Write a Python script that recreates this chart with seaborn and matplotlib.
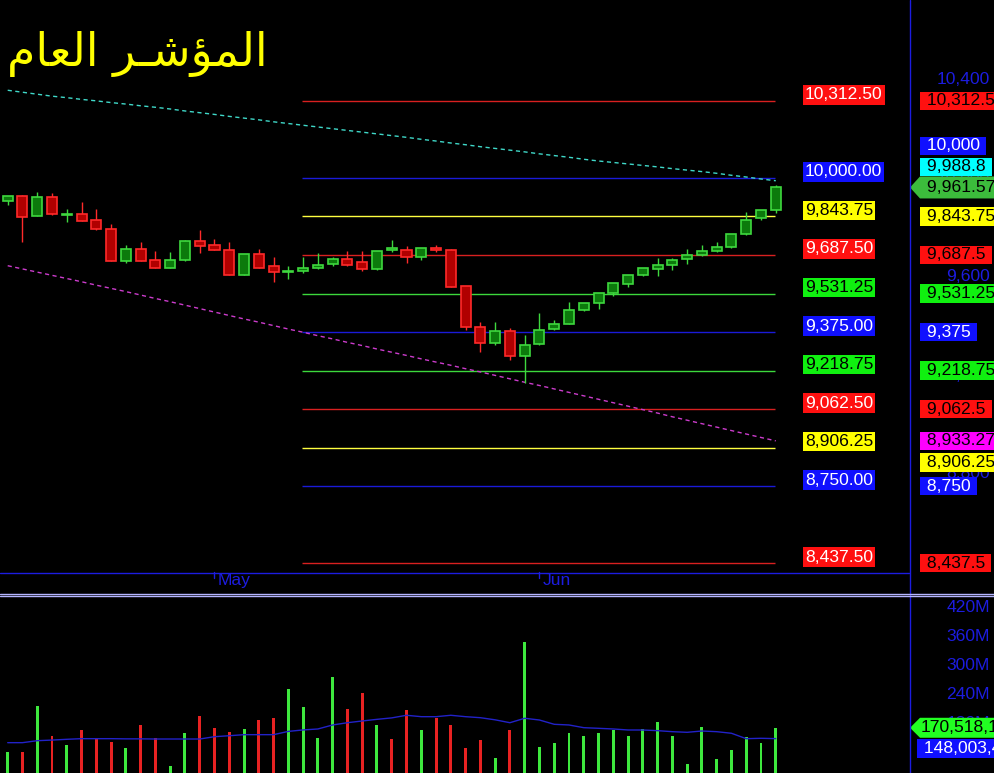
import numpy as np
import pandas as pd
import matplotlib
matplotlib.use("Agg")
import matplotlib.pyplot as plt
import matplotlib.transforms as mtransforms
from matplotlib.patches import Polygon
from matplotlib.lines import Line2D
import seaborn as sns

# ---- data (one candle per trading day) ----
opens = [9908, 9927, 9847, 9922, 9850, 9853, 9828, 9793, 9664, 9711,
         9667, 9636, 9666, 9744, 9728, 9708, 9608, 9690, 9642, 9620,
         9621, 9634, 9650, 9670, 9658, 9630, 9707, 9707, 9678, 9715,
         9707, 9560, 9394, 9332, 9378, 9279, 9325, 9386, 9409, 9463,
         9492, 9532, 9569, 9605, 9630, 9646, 9670, 9686, 9703, 9719,
         9772, 9837, 9869]
highs = [9927, 9930, 9943, 9938, 9874, 9903, 9874, 9813, 9728, 9740,
         9705, 9700, 9748, 9789, 9751, 9740, 9692, 9711, 9678, 9643,
         9680, 9696, 9679, 9702, 9702, 9704, 9747, 9724, 9717, 9727,
         9710, 9562, 9414, 9414, 9390, 9362, 9451, 9422, 9496, 9494,
         9534, 9575, 9607, 9636, 9674, 9674, 9711, 9727, 9739, 9774,
         9861, 9871, 9970]
lows = [9890, 9740, 9845, 9850, 9823, 9825, 9790, 9662, 9656, 9662,
        9634, 9634, 9664, 9694, 9707, 9606, 9606, 9634, 9579, 9589,
        9614, 9632, 9642, 9644, 9621, 9628, 9701, 9654, 9666, 9698,
        9557, 9384, 9295, 9324, 9263, 9169, 9323, 9382, 9407, 9461,
        9470, 9522, 9556, 9603, 9602, 9625, 9650, 9684, 9701, 9717,
        9770, 9828, 9857]
closes = [9927, 9843, 9922, 9853, 9852, 9827, 9792, 9664, 9711, 9664,
          9636, 9667, 9744, 9725, 9709, 9608, 9690, 9636, 9617, 9622,
          9634, 9646, 9670, 9646, 9630, 9702, 9715, 9678, 9715, 9707,
          9559, 9397, 9332, 9378, 9279, 9321, 9384, 9409, 9463, 9492,
          9532, 9573, 9605, 9634, 9646, 9666, 9686, 9703, 9719, 9772,
          9828, 9869, 9961.57]

# moving averages on the price panel
ma_long = [10356, 10348, 10340, 10332, 10326, 10319, 10313, 10306, 10300, 10293,
           10287, 10280, 10272, 10265, 10258, 10250, 10243, 10236, 10228, 10221,
           10214, 10207, 10200, 10193, 10186, 10179, 10172, 10165, 10157, 10150,
           10142, 10135, 10127, 10120, 10113, 10106, 10098, 10091, 10084, 10076,
           10069, 10063, 10057, 10051, 10045, 10038, 10032, 10026, 10019, 10011,
           10004, 9996, 9988.8]
ma_trend = [9644, 9631, 9618, 9605, 9592, 9579, 9565, 9552, 9539, 9525,
            9511, 9498, 9484, 9470, 9456, 9442, 9428, 9415, 9401, 9387,
            9374, 9360, 9347, 9333, 9320, 9306, 9293, 9280, 9266, 9253,
            9240, 9226, 9213, 9199, 9185, 9171, 9158, 9144, 9130, 9116,
            9102, 9088, 9074, 9060, 9046, 9031, 9017, 9003, 8989, 8975,
            8961, 8947, 8933.27]

# volume in millions, colour of each volume bar, and its moving average
volumes = [119.7, 119.7, 215.7, 153.5, 134.8, 165.9, 149.3, 141.0, 128.6, 176.3,
           149.3, 91.2, 159.7, 194.9, 170.1, 161.8, 168.0, 186.6, 190.8, 250.9,
           213.6, 149.3, 275.2, 209.5, 242.6, 176.3, 147.2, 207.4, 165.9, 190.8,
           176.3, 128.6, 145.2, 107.8, 165.9, 348.4, 130.7, 138.9, 159.7, 153.5,
           159.7, 165.9, 153.5, 168.0, 182.5, 153.5, 95.4, 172.1, 105.8, 124.4,
           151.4, 138.9, 170.5]
vol_up = [1, 0, 1, 0, 1, 0, 0, 0, 1, 0,
          0, 1, 1, 0, 0, 0, 1, 0, 0, 1,
          1, 1, 1, 0, 0, 1, 0, 0, 1, 0,
          0, 0, 0, 1, 0, 1, 1, 1, 1, 1,
          1, 1, 1, 1, 1, 1, 1, 1, 1, 1,
          1, 1, 1]
vol_ma = [139.6, 139.6, 143.7, 145.0, 146.6, 147.9, 147.9, 147.9, 147.5, 147.5,
          147.2, 147.2, 147.2, 147.2, 152.0, 154.0, 156.2, 156.2, 156.2, 163.0,
          166.0, 168.0, 176.3, 181.0, 184.6, 188.0, 191.0, 196.4, 193.5, 193.5,
          196.4, 193.5, 191.4, 187.0, 181.0, 190.2, 186.6, 177.7, 176.3, 170.7,
          169.4, 168.0, 165.9, 165.9, 164.5, 162.4, 161.1, 163.8, 162.4, 159.1,
          147.9, 148.7, 148.0]

# fibonacci style levels
fib_levels = [10312.5, 10000, 9843.75, 9687.5, 9531.25, 9375,
              9218.75, 9062.5, 8906.25, 8750, 8437.5]
fib_kinds = ["red", "blue", "yellow", "red", "green", "blue",
             "green", "red", "yellow", "blue", "red"]
fib_start = 19.95

price_ticks = [8800, 9200, 9600, 10000, 10400]
vol_ticks = [120, 180, 240, 300, 360, 420]
month_labels = ["May", "Jun"]
month_pos = [14, 36]

last_vol_full = "170,518,166"
last_vol_ma_full = "148,003,412"
title_text = "\uFEE1\uFE8E\uFECC\uFEDF\uFE8D \uFEAE\u0640\uFEB7\uFE86\uFEE4\uFEDF\uFE8D"  # المؤشر العام

# ---- style ----
W, H = 994, 773
BLUE = "#1c1ce0"
line_col = {"red": "#d82020", "blue": "#1a1ad8", "yellow": "#ffff40", "green": "#3cd83c"}
box_bg = {"red": "#ff1010", "blue": "#1010ff", "yellow": "#ffff00", "green": "#10f010"}
left_fg = {"red": "white", "blue": "white", "yellow": "black", "green": "black"}
right_fg = {"red": "black", "blue": "white", "yellow": "black", "green": "black"}

sns.set_theme(style="dark", rc={
    "figure.facecolor": "black", "axes.facecolor": "black",
    "savefig.facecolor": "black", "axes.grid": False,
})
plt.rcParams["font.family"] = ["Liberation Sans", "DejaVu Sans"]
FS = 12.6

fig = plt.figure(figsize=(W / 100, H / 100), dpi=100)
ax = fig.add_axes([0, (H - 572) / H, 909 / W, 572 / H])
axv = fig.add_axes([0, 0, 909 / W, (H - 596) / H])
for a in (ax, axv):
    a.set_axis_off()
    a.set_xlim(-0.5213, 61.02)
ax.set_ylim(8401.1, 10722.3)
axv.set_ylim(76.7, 443.8)

df = pd.DataFrame({"o": opens, "h": highs, "l": lows, "c": closes,
                   "v": volumes, "up": vol_up, "ma_long": ma_long,
                   "ma_trend": ma_trend, "vol_ma": vol_ma})
df["i"] = np.arange(len(df))
up = df.c >= df.o
edge = np.where(up, "#3ed83e", "#ff2a2a")
fill = np.where(up, "#0c7a0c", "#b00000")

# fib lines
ax.hlines(fib_levels, fib_start, df.i.iloc[-1] - 0.05,
          colors=[line_col[k] for k in fib_kinds], lw=1, zorder=2)

# moving averages
sns.lineplot(data=df, x="i", y="ma_long", ax=ax, color="#3fd8c8", lw=1,
             linestyle=(0, (3, 2.5)), legend=False, zorder=2)
sns.lineplot(data=df, x="i", y="ma_trend", ax=ax, color="#cc3ccc", lw=1,
             linestyle=(0, (3, 2.5)), legend=False, zorder=2)

# candles
ax.vlines(df.i, df.l, df.h, colors=edge, lw=1, zorder=3)
ax.bar(df.i, (df.c - df.o).abs().clip(lower=2), bottom=np.minimum(df.o, df.c),
       width=0.68, color=fill, edgecolor=edge, lw=1.2, zorder=4)

# volume
vcol = np.where(df.up == 1, "#3ee83e", "#e82222")
axv.bar(df.i, df.v, width=0.2, color=vcol, edgecolor="none", lw=0, zorder=3)
sns.lineplot(data=df, x="i", y="vol_ma", ax=axv, color="#2222c8", lw=1,
             legend=False, zorder=4)

# month ticks under the price panel
bx = mtransforms.blended_transform_factory(ax.transData, ax.transAxes)
for lab, pos in zip(month_labels, month_pos):
    ax.plot([pos, pos], [0, -6 / 572], color=BLUE, lw=1, transform=bx, clip_on=False)
    ax.text(pos + 0.2, -1 / 572, lab, color=BLUE, fontsize=FS, va="top",
            ha="left", transform=bx)

# frame lines
fig.add_artist(Line2D([0, 909 / W], [1 - 572.5 / H] * 2, color=BLUE, lw=1))
fig.add_artist(Line2D([909.5 / W] * 2, [0, 1], color=BLUE, lw=1))
for yy in (593.5, 595.8):
    fig.add_artist(Line2D([0, 1], [1 - yy / H] * 2, color="#b4b4ff", lw=1))

ay = mtransforms.blended_transform_factory(ax.transAxes, ax.transData)
avy = mtransforms.blended_transform_factory(axv.transAxes, axv.transData)
px_x = 1 / 909  # axes fraction per pixel


def short(v):
    return f"{v:,.2f}".rstrip("0").rstrip(".")


# left level labels
for v, k in zip(fib_levels, fib_kinds):
    ax.annotate(f"{v:,.2f}", xy=(805 * px_x, v), xycoords=ay,
                xytext=(0, 6), textcoords="offset pixels", ha="left", va="center",
                color=left_fg[k], fontsize=FS, zorder=6,
                bbox=dict(boxstyle="square,pad=0.12", fc=box_bg[k], ec="none"))

# right price scale
for t in price_ticks:
    ax.annotate(f"{t:,}", xy=(990 * px_x, t), xycoords=ay, ha="right",
                va="center", color=BLUE, fontsize=FS, zorder=5)

shift = {10000: 32, 8906.25: -15}
for v, k in zip(fib_levels, fib_kinds):
    ax.annotate(f" {short(v)} ", xy=(921.5 * px_x, v), xycoords=ay,
                xytext=(0, shift.get(v, 0)), textcoords="offset pixels",
                ha="left", va="center", color=right_fg[k], fontsize=FS, zorder=7,
                bbox=dict(boxstyle="square,pad=0.1", fc=box_bg[k], ec="none"))

ax.annotate(f" {short(ma_long[-1])} ", xy=(921.5 * px_x, ma_long[-1]), xycoords=ay,
            xytext=(0, 14), textcoords="offset pixels", ha="left", va="center",
            color="black", fontsize=FS, zorder=7,
            bbox=dict(boxstyle="square,pad=0.1", fc="#00ffff", ec="none"))
ax.annotate(f" {short(ma_trend[-1])} ", xy=(921.5 * px_x, ma_trend[-1]), xycoords=ay,
            ha="left", va="center", color="black", fontsize=FS, zorder=7,
            bbox=dict(boxstyle="square,pad=0.1", fc="#ff00ff", ec="none"))


def arrow_box(a, trans, v, unit, bg, ypad=11):
    h = ypad * unit
    pts = [(910 * px_x, v), (920 * px_x, v + h), (1.2, v + h), (1.2, v - h), (920 * px_x, v - h)]
    a.add_patch(Polygon(pts, closed=True, fc=bg, ec="none", transform=trans,
                        clip_on=False, zorder=7))


# last close arrow
p_unit = (10722.3 - 8401.1) / 572
arrow_box(ax, ay, closes[-1], p_unit, "#3cbc3c")
ax.annotate(f" {closes[-1]:,.2f}", xy=(921.5 * px_x, closes[-1]), xycoords=ay,
            ha="left", va="center", color="black", fontsize=FS, zorder=8)

# volume scale
for t in vol_ticks:
    axv.annotate(f"{t}M", xy=(990 * px_x, t), xycoords=avy, ha="right",
                 va="center", color=BLUE, fontsize=FS, zorder=5)
v_unit = (443.8 - 76.7) / 177
arrow_box(axv, avy, volumes[-1], v_unit, "#22ff22", ypad=10)
axv.annotate(f"{last_vol_full}", xy=(921 * px_x, volumes[-1]), xycoords=avy,
             ha="left", va="center", color="black", fontsize=FS, zorder=8)
axv.annotate(f" {last_vol_ma_full}", xy=(919 * px_x, vol_ma[-1]), xycoords=avy,
             xytext=(0, -10), textcoords="offset pixels", ha="left", va="center",
             color="white", fontsize=FS, zorder=8,
             bbox=dict(boxstyle="square,pad=0.1", fc="#1010ff", ec="none"))

# title
fig.text(7 / W, 1 - 66 / H, title_text, color="#ffff00", fontsize=33,
         family="DejaVu Sans", ha="left", va="baseline")

fig.savefig("out.png", dpi=100, facecolor="black")
